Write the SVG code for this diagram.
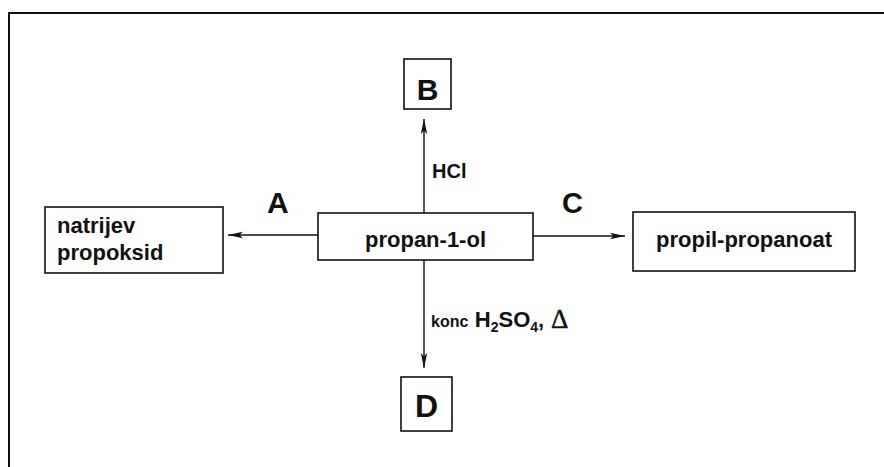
<svg xmlns="http://www.w3.org/2000/svg" width="884" height="467" viewBox="0 0 884 467">
<defs>
<style>
.box{fill:#fff;stroke:#111;stroke-width:1.6}
.t{font-family:"Liberation Sans",Arial,sans-serif;font-weight:bold;fill:#111}
.conn{stroke:#111;stroke-width:1.4;fill:none}
</style>
<marker id="ah" markerUnits="userSpaceOnUse" markerWidth="16" markerHeight="8" refX="15" refY="4" orient="auto">
<path d="M0,0.8 L15,4 L0,7.2 L3.5,4 z" fill="#111"/>
</marker>
</defs>
<rect width="884" height="467" fill="#fff"/>
<path d="M9,467 L9,13 L884,13" fill="none" stroke="#111" stroke-width="2"/>
<g id="connectors">
<line class="conn" x1="424" y1="213" x2="424" y2="119" marker-end="url(#ah)"/>
<line class="conn" x1="424" y1="260" x2="424" y2="368" marker-end="url(#ah)"/>
<line class="conn" x1="318" y1="235" x2="228" y2="235" marker-end="url(#ah)"/>
<line class="conn" x1="533" y1="236" x2="625" y2="236" marker-end="url(#ah)"/>
<text class="t" x="432" y="178" font-size="20">HCl</text>
<text class="t" x="267" y="213" font-size="30">A</text>
<text class="t" x="562" y="213" font-size="29">C</text>
<text class="t" x="431" y="327" font-size="16">konc <tspan font-size="22" dx="2">H</tspan><tspan font-size="14" dy="5">2</tspan><tspan font-size="22" dy="-5">SO</tspan><tspan font-size="14" dy="5">4</tspan><tspan font-size="22" dy="-5">,</tspan></text>
<text x="551" y="328" font-size="27" font-family="Liberation Serif,serif" fill="#111" stroke="#111" stroke-width="0.5">Δ</text>
</g>
<g id="center">
<rect class="box" x="318" y="213" width="215" height="47"/>
<text class="t" x="425.5" y="247" font-size="22" text-anchor="middle">propan-1-ol</text>
</g>
<g id="nodeB">
<rect class="box" x="404" y="59" width="47" height="50"/>
<text class="t" x="427.5" y="100" font-size="30" text-anchor="middle">B</text>
</g>
<g id="nodeD">
<rect class="box" x="401" y="377" width="51" height="54"/>
<text class="t" x="426.5" y="417" font-size="32" text-anchor="middle">D</text>
</g>
<g id="nodeA">
<rect class="box" x="45" y="207" width="178" height="66"/>
<text class="t" x="57" y="233" font-size="22">natrijev</text>
<text class="t" x="57" y="260" font-size="22">propoksid</text>
</g>
<g id="nodeC">
<rect class="box" x="633" y="212" width="222" height="59"/>
<text class="t" x="744" y="247" font-size="22" text-anchor="middle">propil-propanoat</text>
</g>
</svg>
